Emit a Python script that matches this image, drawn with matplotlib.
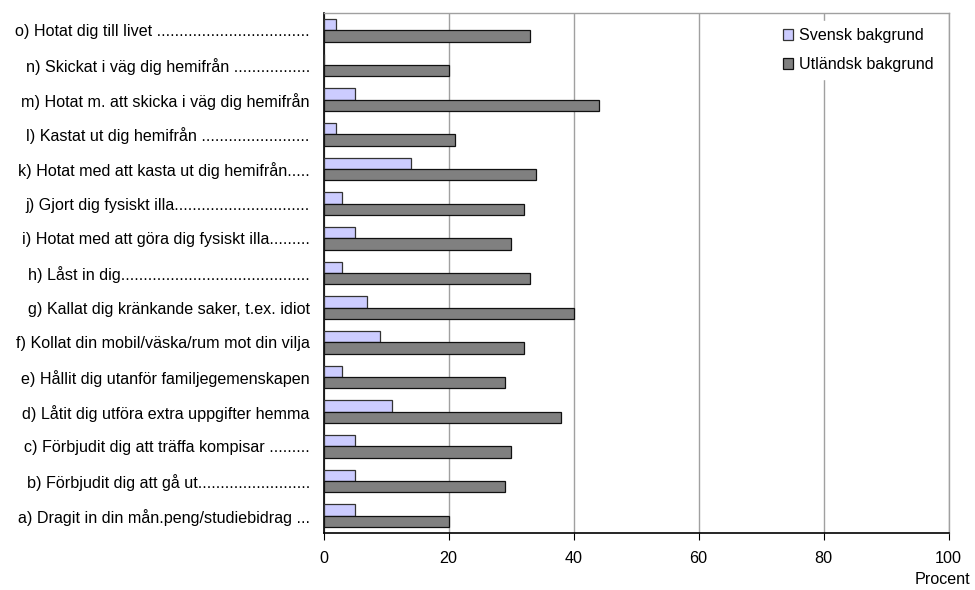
import matplotlib
matplotlib.use("Agg")
import matplotlib.pyplot as plt
import numpy as np

plt.rcParams['font.family'] = ['Liberation Sans', 'DejaVu Sans']

categories = [
    "a) Dragit in din mån.peng/studiebidrag ...",
    "b) Förbjudit dig att gå ut.........................",
    "c) Förbjudit dig att träffa kompisar .........",
    "d) Låtit dig utföra extra uppgifter hemma",
    "e) Hållit dig utanför familjegemenskapen",
    "f) Kollat din mobil/väska/rum mot din vilja",
    "g) Kallat dig kränkande saker, t.ex. idiot",
    "h) Låst in dig..........................................",
    "i) Hotat med att göra dig fysiskt illa.........",
    "j) Gjort dig fysiskt illa..............................",
    "k) Hotat med att kasta ut dig hemifrån.....",
    "l) Kastat ut dig hemifrån ........................",
    "m) Hotat m. att skicka i väg dig hemifrån",
    "n) Skickat i väg dig hemifrån .................",
    "o) Hotat dig till livet ..................................",
]
svensk = [5, 5, 5, 11, 3, 9, 7, 3, 5, 3, 14, 2, 5, 0, 2]
utlandsk = [20, 29, 30, 38, 29, 32, 40, 33, 30, 32, 34, 21, 44, 20, 33]
x_ticks = [0, 20, 40, 60, 80, 100]

FS = 11.6

fig = plt.figure(figsize=(9.75, 5.9), dpi=100)
ax = fig.add_axes([0.332, 0.0966, 0.641, 0.8814])

y = np.arange(len(categories))
h = 0.33
ax.barh(y + h / 2, svensk, height=h, color='#CCCCFF', edgecolor='#333333',
        linewidth=0.9, label='Svensk bakgrund', zorder=3)
ax.barh(y - h / 2, utlandsk, height=h, color='#808080', edgecolor='#111111',
        linewidth=0.9, label='Utländsk bakgrund', zorder=3)

ax.set_ylim(-0.5, len(categories) - 0.5)
ax.set_xlim(0, 100)
ax.set_xticks(x_ticks)
ax.set_xticklabels([str(t) for t in x_ticks], fontsize=FS)
ax.set_yticks(y)
ax.set_yticklabels(categories, fontsize=FS)
ax.tick_params(axis='y', length=0, pad=10)
ax.tick_params(axis='x', length=5, direction='out', pad=8, color='black')

ax.xaxis.grid(True, color='#A0A0A0', linewidth=1.0, zorder=0)
for s in ['top', 'right']:
    ax.spines[s].set_color('#A0A0A0')
    ax.spines[s].set_linewidth(1.0)
for s in ['left', 'bottom']:
    ax.spines[s].set_color('black')
    ax.spines[s].set_linewidth(1.2)

leg = ax.legend(loc='upper right', bbox_to_anchor=(1.0, 1.0), frameon=True,
                fontsize=FS, handlelength=0.65, handleheight=0.65,
                handletextpad=0.35, labelspacing=0.85, borderpad=0.45)
leg.get_frame().set_edgecolor('white')
leg.get_frame().set_facecolor('white')
leg.get_frame().set_alpha(1)
leg.get_frame().set_boxstyle('square', pad=0)

fig.text(0.995, 0.005, 'Procent', ha='right', va='bottom', fontsize=FS)

fig.savefig('out.png', dpi=100, facecolor='white')
